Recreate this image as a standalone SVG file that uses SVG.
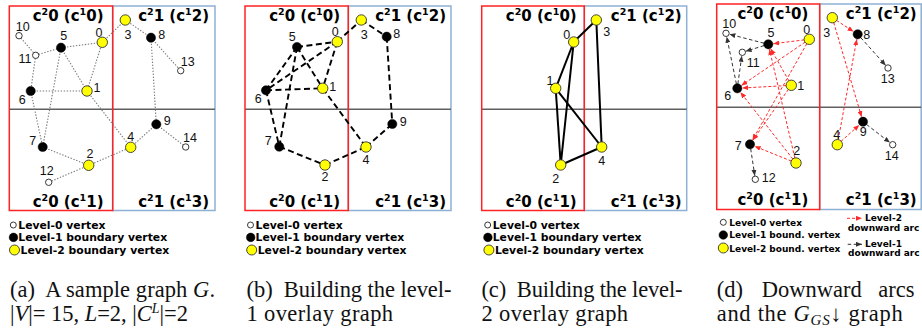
<svg xmlns="http://www.w3.org/2000/svg" width="922" height="333" viewBox="0 0 922 333">
<style>
.bg{fill:#fff}
.red{fill:none;stroke:#f22;stroke-width:1.5}
.blue{fill:none;stroke:#8eb0d4;stroke-width:1.5}
.hl{stroke:#606060;stroke-width:1.5}
.reg{font-family:"DejaVu Sans",Verdana,sans-serif;font-weight:bold;font-size:15px;fill:#000}
.lbl{font-family:"Liberation Sans",Arial,sans-serif;font-size:12.5px;fill:#111;text-anchor:middle}
.yv{fill:#ffff00;stroke:#333;stroke-width:0.9}
.bv{fill:#000;stroke:#000;stroke-width:0.5}
.wv{fill:#fff;stroke:#222;stroke-width:0.9}
.dot{stroke:#7a7a7a;stroke-width:1.1;stroke-dasharray:1.4 1.6;fill:none}
.dash{stroke:#000;stroke-width:1.9;stroke-dasharray:6 3.5;fill:none}
.solid{stroke:#000;stroke-width:2;fill:none}
.rarc{stroke:#ff2a2a;stroke-width:1;stroke-dasharray:3 2;fill:none;marker-end:url(#rh)}
.karc{stroke:#333;stroke-width:1;stroke-dasharray:3.5 2.5;fill:none;marker-end:url(#kh)}
.leg{font-family:"DejaVu Sans",Verdana,sans-serif;font-weight:bold;font-size:10.8px;fill:#000}
.legd{font-family:"DejaVu Sans",Verdana,sans-serif;font-weight:bold;font-size:9px;fill:#000}
.cap{font-family:"Liberation Serif","Times New Roman",serif;font-size:22.5px;fill:#111}
</style>
<defs>
<marker id="rh" markerUnits="userSpaceOnUse" markerWidth="6" markerHeight="5" refX="6" refY="2.5" orient="auto"><path d="M0,0 L6,2.5 L0,5 z" fill="#ff2a2a"/></marker>
<marker id="kh" markerUnits="userSpaceOnUse" markerWidth="6" markerHeight="5" refX="6" refY="2.5" orient="auto"><path d="M0,0 L6,2.5 L0,5 z" fill="#333"/></marker>
</defs>
<rect class="bg" x="0" y="0" width="922" height="333"/>

<!-- cell frames -->
<g id="frames">
<rect class="blue" x="112.7" y="6" width="102.3" height="204.5"/>
<line class="hl" x1="9.3" y1="109.3" x2="215" y2="109.3"/>
<rect class="red" x="9.3" y="6" width="103.4" height="204.5"/>

<rect class="blue" x="348.3" y="6" width="102.7" height="204.5"/>
<line class="hl" x1="245" y1="109.3" x2="451" y2="109.3"/>
<rect class="red" x="245" y="6" width="103.3" height="204.5"/>

<rect class="blue" x="584.3" y="6" width="102.4" height="204.5"/>
<line class="hl" x1="481.7" y1="109.3" x2="686.7" y2="109.3"/>
<rect class="red" x="481.7" y="6" width="102.6" height="204.5"/>

<rect class="blue" x="819.7" y="4" width="101.5" height="205.5"/>
<line class="hl" x1="716.7" y1="107.3" x2="921.2" y2="107.3"/>
<rect class="red" x="716.7" y="4" width="103" height="205.5"/>
</g>

<g id="cell-labels">
<text class="reg" x="103.5" y="21" text-anchor="end">c<tspan dy="-6" font-size="9.5">2</tspan><tspan dy="6">0 (c</tspan><tspan dy="-6" font-size="9.5">1</tspan><tspan dy="6">0)</tspan></text>
<text class="reg" x="209" y="21" text-anchor="end">c<tspan dy="-6" font-size="9.5">2</tspan><tspan dy="6">1 (c</tspan><tspan dy="-6" font-size="9.5">1</tspan><tspan dy="6">2)</tspan></text>
<text class="reg" x="103.5" y="207" text-anchor="end">c<tspan dy="-6" font-size="9.5">2</tspan><tspan dy="6">0 (c</tspan><tspan dy="-6" font-size="9.5">1</tspan><tspan dy="6">1)</tspan></text>
<text class="reg" x="209" y="207" text-anchor="end">c<tspan dy="-6" font-size="9.5">2</tspan><tspan dy="6">1 (c</tspan><tspan dy="-6" font-size="9.5">1</tspan><tspan dy="6">3)</tspan></text>

<text class="reg" x="340" y="21" text-anchor="end">c<tspan dy="-6" font-size="9.5">2</tspan><tspan dy="6">0 (c</tspan><tspan dy="-6" font-size="9.5">1</tspan><tspan dy="6">0)</tspan></text>
<text class="reg" x="446" y="21" text-anchor="end">c<tspan dy="-6" font-size="9.5">2</tspan><tspan dy="6">1 (c</tspan><tspan dy="-6" font-size="9.5">1</tspan><tspan dy="6">2)</tspan></text>
<text class="reg" x="340" y="207" text-anchor="end">c<tspan dy="-6" font-size="9.5">2</tspan><tspan dy="6">0 (c</tspan><tspan dy="-6" font-size="9.5">1</tspan><tspan dy="6">1)</tspan></text>
<text class="reg" x="446" y="207" text-anchor="end">c<tspan dy="-6" font-size="9.5">2</tspan><tspan dy="6">1 (c</tspan><tspan dy="-6" font-size="9.5">1</tspan><tspan dy="6">3)</tspan></text>

<text class="reg" x="576.7" y="21" text-anchor="end">c<tspan dy="-6" font-size="9.5">2</tspan><tspan dy="6">0 (c</tspan><tspan dy="-6" font-size="9.5">1</tspan><tspan dy="6">0)</tspan></text>
<text class="reg" x="681.7" y="21" text-anchor="end">c<tspan dy="-6" font-size="9.5">2</tspan><tspan dy="6">1 (c</tspan><tspan dy="-6" font-size="9.5">1</tspan><tspan dy="6">2)</tspan></text>
<text class="reg" x="576.7" y="207" text-anchor="end">c<tspan dy="-6" font-size="9.5">2</tspan><tspan dy="6">0 (c</tspan><tspan dy="-6" font-size="9.5">1</tspan><tspan dy="6">1)</tspan></text>
<text class="reg" x="681.7" y="207" text-anchor="end">c<tspan dy="-6" font-size="9.5">2</tspan><tspan dy="6">1 (c</tspan><tspan dy="-6" font-size="9.5">1</tspan><tspan dy="6">3)</tspan></text>

<text class="reg" x="808.3" y="18.5" text-anchor="end">c<tspan dy="-6" font-size="9.5">2</tspan><tspan dy="6">0 (c</tspan><tspan dy="-6" font-size="9.5">1</tspan><tspan dy="6">0)</tspan></text>
<text class="reg" x="916.7" y="18.5" text-anchor="end">c<tspan dy="-6" font-size="9.5">2</tspan><tspan dy="6">1 (c</tspan><tspan dy="-6" font-size="9.5">1</tspan><tspan dy="6">2)</tspan></text>
<text class="reg" x="808.3" y="204.5" text-anchor="end">c<tspan dy="-6" font-size="9.5">2</tspan><tspan dy="6">0 (c</tspan><tspan dy="-6" font-size="9.5">1</tspan><tspan dy="6">1)</tspan></text>
<text class="reg" x="916.7" y="204.5" text-anchor="end">c<tspan dy="-6" font-size="9.5">2</tspan><tspan dy="6">1 (c</tspan><tspan dy="-6" font-size="9.5">1</tspan><tspan dy="6">3)</tspan></text>
</g>

<g id="connectors">
<g id="edges-a">
<line class="dot" x1="19" y1="35.7" x2="35.7" y2="55.3"/>
<line class="dot" x1="35.7" y1="55.3" x2="61" y2="47.7"/>
<line class="dot" x1="61" y1="47.7" x2="102.3" y2="42.3"/>
<line class="dot" x1="102.3" y1="42.3" x2="125.3" y2="20"/>
<line class="dot" x1="125.3" y1="20" x2="151" y2="37.7"/>
<line class="dot" x1="151" y1="37.7" x2="180.7" y2="70.7"/>
<line class="dot" x1="61" y1="47.7" x2="87" y2="91"/>
<line class="dot" x1="102.3" y1="42.3" x2="87" y2="91"/>
<line class="dot" x1="35.7" y1="55.3" x2="30.7" y2="91"/>
<line class="dot" x1="30.7" y1="91" x2="87" y2="91"/>
<line class="dot" x1="30.7" y1="91" x2="42.7" y2="147"/>
<line class="dot" x1="61" y1="47.7" x2="42.7" y2="147"/>
<line class="dot" x1="42.7" y1="147" x2="88.7" y2="165.3"/>
<line class="dot" x1="88.7" y1="165.3" x2="48.7" y2="182.3"/>
<line class="dot" x1="88.7" y1="165.3" x2="130.7" y2="147.3"/>
<line class="dot" x1="87" y1="91" x2="130.7" y2="147.3"/>
<line class="dot" x1="130.7" y1="147.3" x2="156.3" y2="124.3"/>
<line class="dot" x1="156.3" y1="124.3" x2="185.7" y2="147"/>
<line class="dot" x1="151" y1="37.7" x2="156.3" y2="124.3"/>
</g>
<g id="edges-b">
<line class="dash" x1="297" y1="47" x2="337.3" y2="41.7"/>
<line class="dash" x1="337.3" y1="41.7" x2="361.3" y2="20"/>
<line class="dash" x1="361.3" y1="20" x2="386.7" y2="36.7"/>
<line class="dash" x1="386.7" y1="36.7" x2="392.3" y2="124"/>
<line class="dash" x1="297" y1="47" x2="266" y2="90.3"/>
<line class="dash" x1="337.3" y1="41.7" x2="266" y2="90.3"/>
<line class="dash" x1="297" y1="47" x2="322.7" y2="88.3"/>
<line class="dash" x1="337.3" y1="41.7" x2="322.7" y2="88.3"/>
<line class="dash" x1="266" y1="90.3" x2="322.7" y2="88.3"/>
<line class="dash" x1="297" y1="47" x2="279.3" y2="146.7"/>
<line class="dash" x1="266" y1="90.3" x2="279.3" y2="146.7"/>
<line class="dash" x1="279.3" y1="146.7" x2="325" y2="165"/>
<line class="dash" x1="325" y1="165" x2="366" y2="147"/>
<line class="dash" x1="366" y1="147" x2="392.3" y2="124"/>
<line class="dash" x1="322.7" y1="88.3" x2="366" y2="147"/>
</g>
<g id="edges-c">
<line class="solid" x1="573.7" y1="42" x2="596.3" y2="20"/>
<line class="solid" x1="573.7" y1="42" x2="555.7" y2="88.3"/>
<line class="solid" x1="573.7" y1="42" x2="560.7" y2="165"/>
<line class="solid" x1="555.7" y1="88.3" x2="560.7" y2="165"/>
<line class="solid" x1="555.7" y1="88.3" x2="601.7" y2="147"/>
<line class="solid" x1="596.3" y1="20" x2="601.7" y2="147"/>
<line class="solid" x1="560.7" y1="165" x2="601.7" y2="147"/>
</g>
<g id="arcs-d">
<line class="rarc" x1="804.3" y1="39.9" x2="773.3" y2="43.7"/>
<line class="rarc" x1="805.2" y1="42.1" x2="741.4" y2="85.5"/>
<line class="rarc" x1="806.8" y1="43.7" x2="752.5" y2="140"/>
<line class="rarc" x1="788.9" y1="80.9" x2="770.7" y2="48.7"/>
<line class="rarc" x1="786.3" y1="85.6" x2="742.3" y2="88"/>
<line class="rarc" x1="788.4" y1="89.4" x2="752.9" y2="140.2"/>
<line class="rarc" x1="794.9" y1="158.1" x2="769.4" y2="49.2"/>
<line class="rarc" x1="792.9" y1="159.1" x2="740.4" y2="92.2"/>
<line class="rarc" x1="791.4" y1="161.1" x2="754.6" y2="146.2"/>
<line class="rarc" x1="836.5" y1="20.4" x2="853.5" y2="31.6"/>
<line class="rarc" x1="833.7" y1="22.5" x2="861.6" y2="116.9"/>
<line class="rarc" x1="838.2" y1="139.8" x2="856.8" y2="39.2"/>
<line class="rarc" x1="841" y1="141.4" x2="859.3" y2="125"/>
<line class="karc" x1="764" y1="43.2" x2="729.4" y2="34.2"/>
<line class="karc" x1="764" y1="45.6" x2="745.6" y2="51.3"/>
<line class="karc" x1="736.4" y1="83.9" x2="726.7" y2="36.7"/>
<line class="karc" x1="737.9" y1="83.8" x2="741.8" y2="55.8"/>
<line class="karc" x1="750.7" y1="148.8" x2="754.8" y2="175.8"/>
<line class="karc" x1="860.7" y1="37.6" x2="885.7" y2="65.4"/>
<line class="karc" x1="866.6" y1="124.5" x2="889.9" y2="142.6"/>
</g>
</g>

<!-- nodes panel a -->
<g id="a-v0"><circle class="yv" cx="102.3" cy="42.3" r="5.2"/><text class="lbl" x="99" y="36.5">0</text></g>
<g id="a-v1"><circle class="yv" cx="87" cy="91" r="5.2"/><text class="lbl" x="97" y="91.5">1</text></g>
<g id="a-v2"><circle class="yv" cx="88.7" cy="165.3" r="5.2"/><text class="lbl" x="90" y="157.5">2</text></g>
<g id="a-v3"><circle class="yv" cx="125.3" cy="20" r="5.2"/><text class="lbl" x="128" y="38.5">3</text></g>
<g id="a-v4"><circle class="yv" cx="130.7" cy="147.3" r="5.2"/><text class="lbl" x="130.7" y="141">4</text></g>
<g id="a-v5"><circle class="bv" cx="61" cy="47.7" r="4.6"/><text class="lbl" x="63.7" y="39.5">5</text></g>
<g id="a-v6"><circle class="bv" cx="30.7" cy="91" r="4.6"/><text class="lbl" x="22.3" y="103.5">6</text></g>
<g id="a-v7"><circle class="bv" cx="42.7" cy="147" r="4.6"/><text class="lbl" x="32.7" y="144.5">7</text></g>
<g id="a-v8"><circle class="bv" cx="151" cy="37.7" r="4.6"/><text class="lbl" x="161.7" y="38.5">8</text></g>
<g id="a-v9"><circle class="bv" cx="156.3" cy="124.3" r="4.6"/><text class="lbl" x="167.3" y="125">9</text></g>
<g id="a-v10"><circle class="wv" cx="19" cy="35.7" r="3.2"/><text class="lbl" x="22.7" y="30.5">10</text></g>
<g id="a-v11"><circle class="wv" cx="35.7" cy="55.3" r="3.2"/><text class="lbl" x="25" y="62.5">11</text></g>
<g id="a-v12"><circle class="wv" cx="48.7" cy="182.3" r="3.2"/><text class="lbl" x="46.7" y="175">12</text></g>
<g id="a-v13"><circle class="wv" cx="180.7" cy="70.7" r="3.2"/><text class="lbl" x="187.7" y="65.5">13</text></g>
<g id="a-v14"><circle class="wv" cx="185.7" cy="147" r="3.2"/><text class="lbl" x="190" y="141.5">14</text></g>

<!-- nodes panel b -->
<g id="b-v0"><circle class="yv" cx="337.3" cy="41.7" r="5.2"/><text class="lbl" x="335.3" y="36">0</text></g>
<g id="b-v1"><circle class="yv" cx="322.7" cy="88.3" r="5.2"/><text class="lbl" x="332.7" y="91">1</text></g>
<g id="b-v2"><circle class="yv" cx="325" cy="165" r="5.2"/><text class="lbl" x="325" y="181">2</text></g>
<g id="b-v3"><circle class="yv" cx="361.3" cy="20" r="5.2"/><text class="lbl" x="364.3" y="39">3</text></g>
<g id="b-v4"><circle class="yv" cx="366" cy="147" r="5.2"/><text class="lbl" x="366" y="163.5">4</text></g>
<g id="b-v5"><circle class="bv" cx="297" cy="47" r="4.6"/><text class="lbl" x="292.3" y="41">5</text></g>
<g id="b-v6"><circle class="bv" cx="266" cy="90.3" r="4.6"/><text class="lbl" x="258.3" y="103">6</text></g>
<g id="b-v7"><circle class="bv" cx="279.3" cy="146.7" r="4.6"/><text class="lbl" x="268.3" y="144.5">7</text></g>
<g id="b-v8"><circle class="bv" cx="386.7" cy="36.7" r="4.6"/><text class="lbl" x="396.7" y="38">8</text></g>
<g id="b-v9"><circle class="bv" cx="392.3" cy="124" r="4.6"/><text class="lbl" x="403.3" y="125.5">9</text></g>

<!-- nodes panel c -->
<g id="c-v0"><circle class="yv" cx="573.7" cy="42" r="5.2"/><text class="lbl" x="566.7" y="38.5">0</text></g>
<g id="c-v1"><circle class="yv" cx="555.7" cy="88.3" r="5.2"/><text class="lbl" x="550" y="84.5">1</text></g>
<g id="c-v2"><circle class="yv" cx="560.7" cy="165" r="5.2"/><text class="lbl" x="555.7" y="183">2</text></g>
<g id="c-v3"><circle class="yv" cx="596.3" cy="20" r="5.2"/><text class="lbl" x="606.7" y="36">3</text></g>
<g id="c-v4"><circle class="yv" cx="601.7" cy="147" r="5.2"/><text class="lbl" x="601.7" y="164.5">4</text></g>

<!-- nodes panel d -->
<g id="d-v0"><circle class="yv" cx="809.3" cy="39.3" r="5.2"/><text class="lbl" x="806.7" y="34">0</text></g>
<g id="d-v1"><circle class="yv" cx="791.3" cy="85.3" r="5.2"/><text class="lbl" x="800.7" y="90">1</text></g>
<g id="d-v2"><circle class="yv" cx="796" cy="163" r="5.2"/><text class="lbl" x="796.7" y="155">2</text></g>
<g id="d-v3"><circle class="yv" cx="832.3" cy="17.7" r="5.2"/><text class="lbl" x="826.7" y="37">3</text></g>
<g id="d-v4"><circle class="yv" cx="837.3" cy="144.7" r="5.2"/><text class="lbl" x="836.7" y="139">4</text></g>
<g id="d-v5"><circle class="bv" cx="768.3" cy="44.3" r="4.6"/><text class="lbl" x="771" y="37">5</text></g>
<g id="d-v6"><circle class="bv" cx="737.3" cy="88.3" r="4.6"/><text class="lbl" x="727.7" y="100">6</text></g>
<g id="d-v7"><circle class="bv" cx="750" cy="144.3" r="4.6"/><text class="lbl" x="738.3" y="149.5">7</text></g>
<g id="d-v8"><circle class="bv" cx="857.7" cy="34.3" r="4.6"/><text class="lbl" x="866.7" y="39">8</text></g>
<g id="d-v9"><circle class="bv" cx="863" cy="121.7" r="4.6"/><text class="lbl" x="863.3" y="135.5">9</text></g>
<g id="d-v10"><circle class="wv" cx="726" cy="33.3" r="3.2"/><text class="lbl" x="729.3" y="28">10</text></g>
<g id="d-v11"><circle class="wv" cx="742.3" cy="52.3" r="3.2"/><text class="lbl" x="753.3" y="66.5">11</text></g>
<g id="d-v12"><circle class="wv" cx="755.3" cy="179.3" r="3.2"/><text class="lbl" x="768.7" y="182">12</text></g>
<g id="d-v13"><circle class="wv" cx="888" cy="68" r="3.2"/><text class="lbl" x="887.7" y="83">13</text></g>
<g id="d-v14"><circle class="wv" cx="892.7" cy="144.7" r="3.2"/><text class="lbl" x="891.7" y="159.5">14</text></g>

<!-- legends -->
<g id="legend-a">
<circle class="wv" cx="13.3" cy="225" r="3"/><text class="leg" x="18.3" y="229">Level-0 vertex</text>
<circle class="bv" cx="13.5" cy="237.4" r="4.3"/><text class="leg" x="18.3" y="241.4">Level-1 boundary vertex</text>
<circle class="yv" cx="14.5" cy="250" r="5"/><text class="leg" x="20.5" y="254">Level-2 boundary vertex</text>
</g>
<g id="legend-b">
<circle class="wv" cx="250.5" cy="225" r="3"/><text class="leg" x="255.5" y="229">Level-0 vertex</text>
<circle class="bv" cx="250.7" cy="237.4" r="4.3"/><text class="leg" x="255.5" y="241.4">Level-1 boundary vertex</text>
<circle class="yv" cx="251.7" cy="250" r="5"/><text class="leg" x="257.7" y="254">Level-2 boundary vertex</text>
</g>
<g id="legend-c">
<circle class="wv" cx="487.7" cy="225" r="3"/><text class="leg" x="492.7" y="229">Level-0 vertex</text>
<circle class="bv" cx="487.9" cy="237.4" r="4.3"/><text class="leg" x="492.7" y="241.4">Level-1 boundary vertex</text>
<circle class="yv" cx="488.9" cy="250" r="5"/><text class="leg" x="494.9" y="254">Level-2 boundary vertex</text>
</g>
<g id="legend-d">
<circle class="wv" cx="723.3" cy="222.3" r="3"/><text class="legd" x="729.3" y="225.7">Level-0 vertex</text>
<circle class="bv" cx="723.3" cy="235" r="4.3"/><text class="legd" x="729.3" y="238.4">Level-1 bound. vertex</text>
<circle class="yv" cx="723.3" cy="248" r="5"/><text class="legd" x="729.3" y="251.6">Level-2 bound. vertex</text>
<line class="rarc" x1="847" y1="218.3" x2="862" y2="218.3"/>
<text class="legd" x="865" y="221.3">Level-2</text>
<text class="legd" x="847.7" y="231">downward arc</text>
<line class="karc" x1="847.7" y1="244.3" x2="862" y2="244.3"/>
<text class="legd" x="865" y="247.3">Level-1</text>
<text class="legd" x="848" y="255.5">downward arc</text>
</g>

<!-- captions -->
<g id="captions">
<text class="cap" xml:space="preserve" x="10" y="297" textLength="205" lengthAdjust="spacing">(a)  A sample graph <tspan font-style="italic">G</tspan>.</text>
<text class="cap" x="10" y="321" textLength="178" lengthAdjust="spacing">|<tspan font-style="italic">V</tspan>|= 15, <tspan font-style="italic">L</tspan>=2, |<tspan font-style="italic">C</tspan><tspan font-style="italic" font-size="14" dy="-8">L</tspan><tspan dy="8">|=2</tspan></text>
<text class="cap" xml:space="preserve" x="246.5" y="297" textLength="205" lengthAdjust="spacing">(b)  Building the level-</text>
<text class="cap" x="246.5" y="321" textLength="146.5" lengthAdjust="spacing">1 overlay graph</text>
<text class="cap" xml:space="preserve" x="481.5" y="297" textLength="201" lengthAdjust="spacing">(c)  Building the level-</text>
<text class="cap" x="481.5" y="321" textLength="146.5" lengthAdjust="spacing">2 overlay graph</text>
<text class="cap" y="297"><tspan x="716.7">(d)</tspan><tspan x="761.7">Downward</tspan><tspan x="878.3">arcs</tspan></text>
<text class="cap" x="716.7" y="321" textLength="186" lengthAdjust="spacing">and the <tspan font-style="italic">G</tspan><tspan font-style="italic" font-size="15" dy="4">GS</tspan><tspan dy="-4">↓ graph</tspan></text>
</g>
</svg>
